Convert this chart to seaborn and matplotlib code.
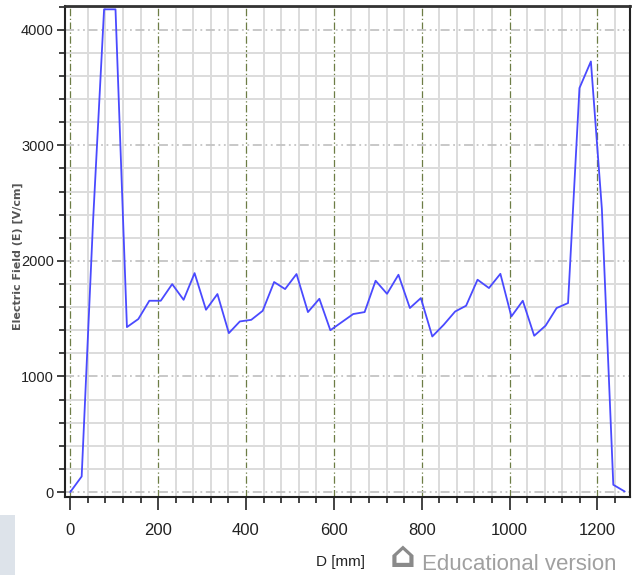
import numpy as np
import pandas as pd
import matplotlib
matplotlib.use("Agg")
import matplotlib.pyplot as plt
from matplotlib.ticker import MultipleLocator
from matplotlib.patches import Rectangle
import seaborn as sns

# Data
D_mm = [0, 26, 52, 77, 103, 129, 155, 180, 206, 232,
        258, 283, 309, 335, 361, 386, 412, 438, 464, 489,
        515, 541, 567, 592, 618, 644, 670, 695, 721, 747,
        773, 798, 824, 850, 876, 901, 927, 953, 979, 1004,
        1030, 1056, 1082, 1107, 1133, 1159, 1185, 1210, 1236, 1262]
E_field = [0, 135, 2350, 4176, 4176, 1427, 1497, 1655, 1655, 1799,
           1663, 1894, 1577, 1713, 1375, 1476, 1490, 1568, 1817, 1756,
           1886, 1557, 1672, 1400, 1470, 1540, 1557, 1828, 1715, 1880,
           1592, 1678, 1346, 1447, 1562, 1612, 1837, 1765, 1888, 1519,
           1655, 1352, 1440, 1592, 1635, 3495, 3725, 2450, 63, 5]
x_ticks = [0, 200, 400, 600, 800, 1000, 1200]
y_ticks = [0, 1000, 2000, 3000, 4000]

df = pd.DataFrame({"D": D_mm, "E": E_field})

sns.set_theme(style="white")
tickfont = ["Liberation Sans", "DejaVu Sans"]

fig = plt.figure(figsize=(6.37, 5.75), dpi=100)
ax = fig.add_axes([0.102, 0.136, 0.887, 0.854])

# grid lines
ax.xaxis.set_major_locator(MultipleLocator(200))
ax.xaxis.set_minor_locator(MultipleLocator(40))
ax.yaxis.set_major_locator(MultipleLocator(1000))
ax.yaxis.set_minor_locator(MultipleLocator(200))

ax.grid(which="minor", axis="both", color="#dcdcdc", linewidth=1.4, linestyle="-")
ax.grid(which="major", axis="y", color="#c4c4c4", linewidth=1.3,
        linestyle=(0, (5, 2, 1, 2, 1, 2)))
ax.grid(which="major", axis="x", color="#6d7d45", linewidth=0.9,
        linestyle=(0, (6, 2, 1, 2)))
ax.set_axisbelow(True)

sns.lineplot(data=df, x="D", y="E", ax=ax, color="#4a4aff", linewidth=1.3)

ax.set_xlim(-12, 1274)
ax.set_ylim(-41, 4207)
ax.set_xticks(x_ticks)
ax.set_yticks(y_ticks)
ax.set_xticklabels([str(v) for v in x_ticks], family=tickfont, fontsize=12, color="#222222")
ax.set_yticklabels([str(v) for v in y_ticks], family=tickfont, fontsize=10.5, color="#222222")

ax.tick_params(axis="x", which="major", direction="out", length=9, width=1.2,
               color="#222222", pad=10, bottom=True)
ax.tick_params(axis="x", which="minor", direction="out", length=4, width=1.2,
               color="#222222", bottom=True)
ax.tick_params(axis="y", which="major", direction="out", length=6, width=1.2,
               color="#222222", pad=2, left=True)
ax.tick_params(axis="y", which="minor", direction="out", length=4, width=1.2,
               color="#222222", left=True)

for side in ["left", "bottom", "right"]:
    ax.spines[side].set_color("#222222")
    ax.spines[side].set_linewidth(1.5)
ax.spines["top"].set_color("#333333")
ax.spines["top"].set_linewidth(2.0)

ax.set_xlabel("D [mm]", family=tickfont, fontsize=11, color="#222222")
ax.xaxis.set_label_coords(0.487, -0.118)
ax.set_ylabel("Electric Field (E) [V/cm]", fontsize=8, fontweight="bold",
              color="#555555")
ax.yaxis.set_label_coords(-0.074, 0.49)

# watermark
fig.patches.append(Rectangle((0.0, 0.0), 0.024, 0.105, transform=fig.transFigure,
                             facecolor="#dde3ea", edgecolor="none", zorder=0))
fig.text(0.612, 0.002, "\u2302", fontsize=26, color="#8a8a8a", fontweight="bold",
         ha="left", va="bottom")
fig.text(0.662, 0.0, "Educational version", family=tickfont, fontsize=16,
         color="#a0a0a0", ha="left", va="bottom")

fig.savefig("out.png", dpi=100)
